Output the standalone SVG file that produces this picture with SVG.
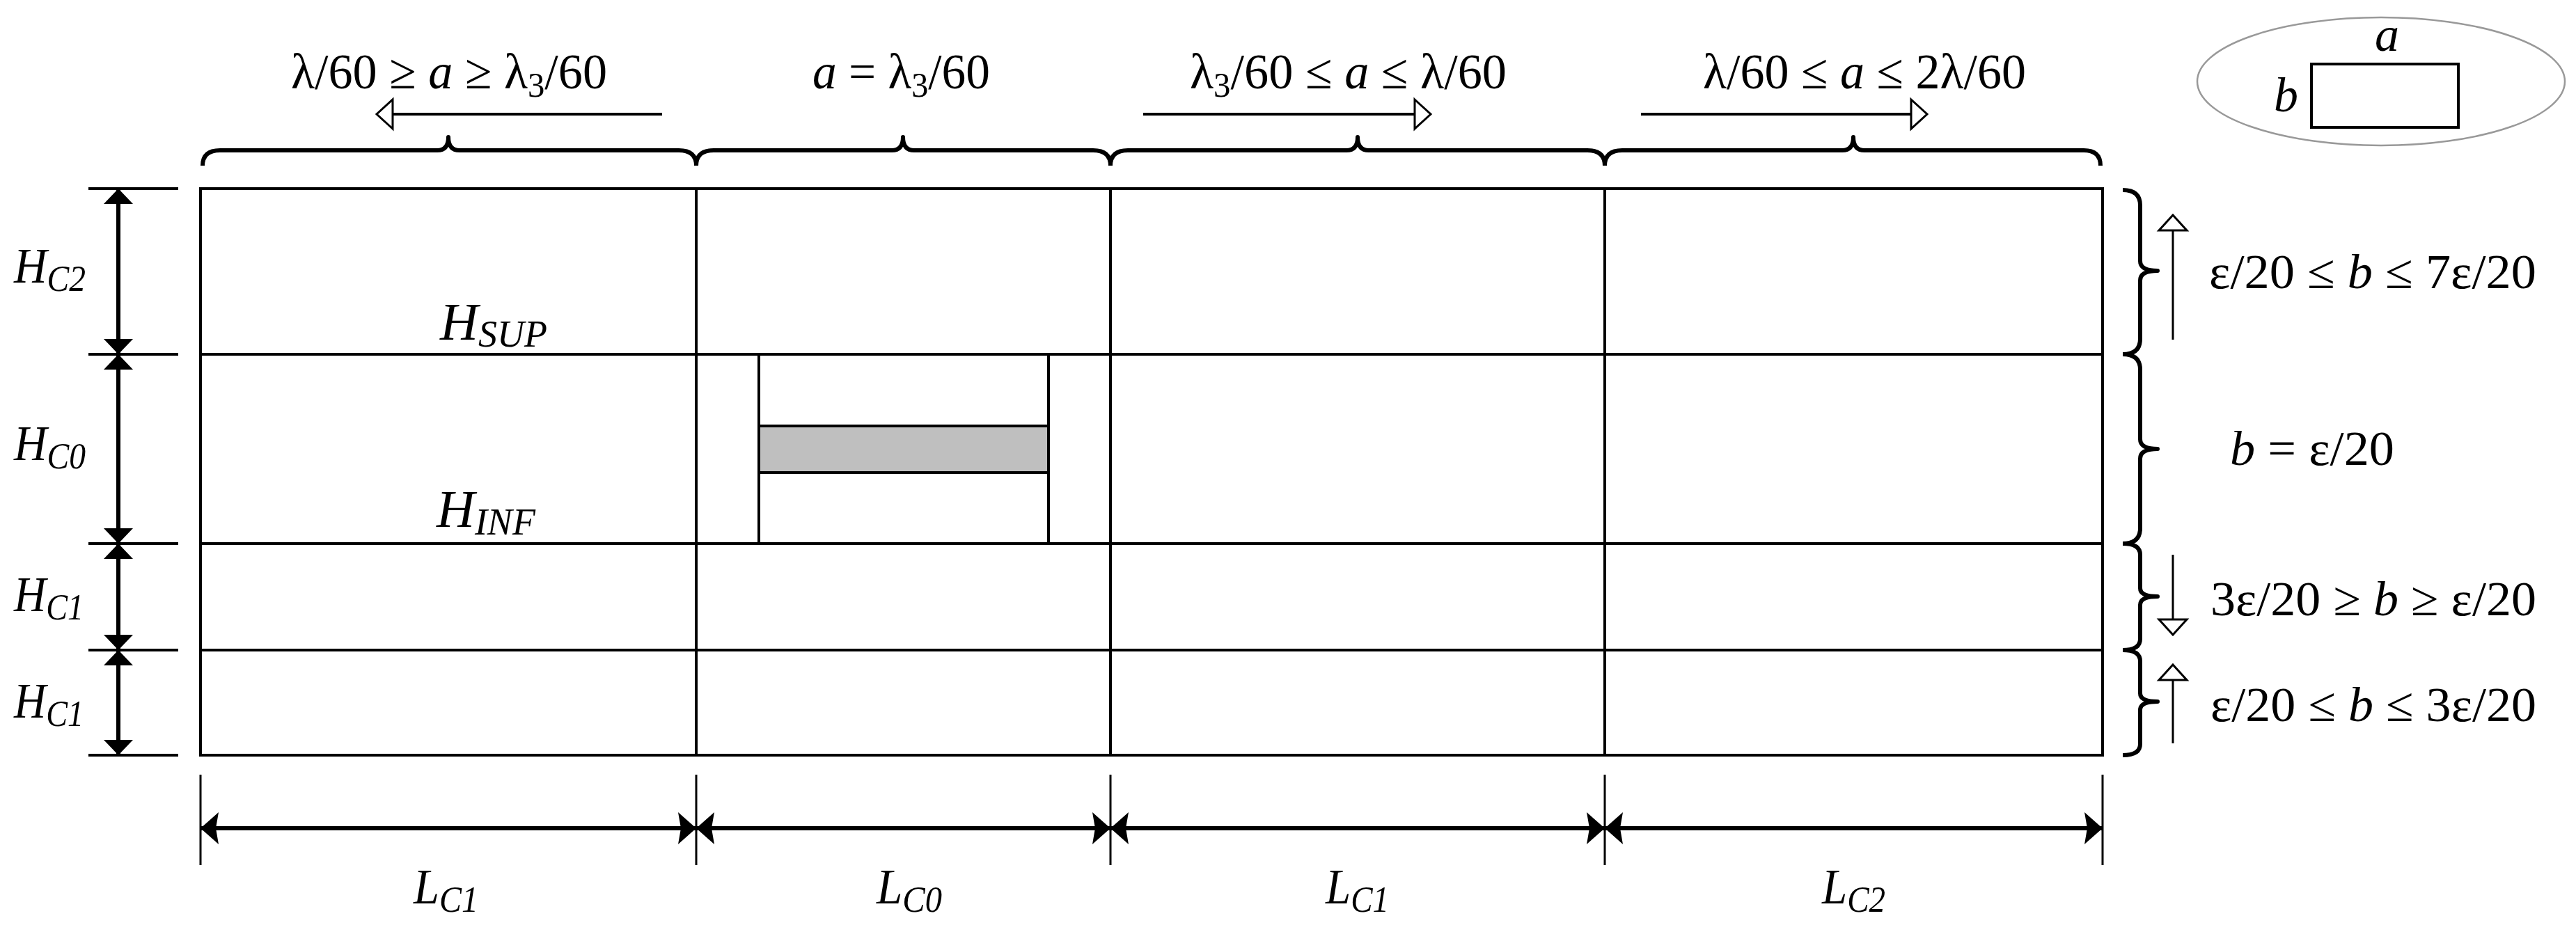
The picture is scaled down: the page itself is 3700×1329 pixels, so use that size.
<svg xmlns="http://www.w3.org/2000/svg" width="3700" height="1329" viewBox="0 0 3700 1329">
<style>
  .g { stroke:#000; stroke-width:4; fill:none; }
  .thin { stroke:#000; stroke-width:3; fill:none; }
  .dim { stroke:#000; stroke-width:6; fill:none; }
  .br { stroke:#000; stroke-width:6; fill:none; stroke-linejoin:round; }
  .t { font-family:"Liberation Serif","Times New Roman",serif; fill:#000; }
  .i { font-style:italic; }
</style>
<defs>
  <marker id="fa" markerUnits="userSpaceOnUse" viewBox="0 0 22 44" markerWidth="22" markerHeight="44" refX="22" refY="22" orient="auto-start-reverse" overflow="visible">
    <path d="M0,1 L22,22 L0,43 z" fill="#000"/>
  </marker>
  <marker id="fb" markerUnits="userSpaceOnUse" viewBox="0 0 26 46" markerWidth="26" markerHeight="46" refX="26" refY="23" orient="auto-start-reverse" overflow="visible">
    <path d="M0,0 L26,23 L0,46 L4,23 z" fill="#000"/>
  </marker>
  <marker id="ho" markerUnits="userSpaceOnUse" viewBox="0 0 28 46" markerWidth="28" markerHeight="46" refX="2" refY="23" orient="auto" overflow="visible">
    <path d="M2,2 L25,23 L2,44 z" fill="#fff" stroke="#000" stroke-width="3"/>
  </marker>
  <marker id="hr" markerUnits="userSpaceOnUse" viewBox="0 0 26 44" markerWidth="26" markerHeight="44" refX="2" refY="22" orient="auto" overflow="visible">
    <path d="M2,2 L24,22 L2,42 z" fill="#fff" stroke="#000" stroke-width="3"/>
  </marker>
</defs>
<rect width="3700" height="1329" fill="#fff"/>

<!-- grid -->
<g id="grid">
  <rect x="288" y="271" width="2732" height="814" class="g"/>
  <line x1="288" y1="509" x2="3020" y2="509" class="g"/>
  <line x1="288" y1="781" x2="3020" y2="781" class="g"/>
  <line x1="288" y1="934" x2="3020" y2="934" class="g"/>
  <line x1="1000" y1="271" x2="1000" y2="1085" class="g"/>
  <line x1="1595" y1="271" x2="1595" y2="1085" class="g"/>
  <line x1="2305" y1="271" x2="2305" y2="1085" class="g"/>
</g>

<g id="center-cell">
  <line x1="1090" y1="509" x2="1090" y2="781" class="g"/>
  <line x1="1506" y1="509" x2="1506" y2="781" class="g"/>
  <rect x="1090" y="612" width="416" height="67" fill="#bfbfbf" stroke="#000" stroke-width="4"/>
</g>

<g id="h-sup"><text class="t i" x="632" y="488" font-size="76">H<tspan font-size="54" dy="10">SUP</tspan></text></g>
<g id="h-inf"><text class="t i" x="627" y="757" font-size="76">H<tspan font-size="54" dy="11">INF</tspan></text></g>

<!-- left dimensions -->
<g id="left-dims">
  <line x1="127" y1="271" x2="256" y2="271" class="g"/>
  <line x1="127" y1="509" x2="256" y2="509" class="g"/>
  <line x1="127" y1="781" x2="256" y2="781" class="g"/>
  <line x1="127" y1="934" x2="256" y2="934" class="g"/>
  <line x1="127" y1="1085" x2="256" y2="1085" class="g"/>
  <line x1="170" y1="271" x2="170" y2="509" class="dim" marker-start="url(#fa)" marker-end="url(#fa)"/>
  <line x1="170" y1="509" x2="170" y2="781" class="dim" marker-start="url(#fa)" marker-end="url(#fa)"/>
  <line x1="170" y1="781" x2="170" y2="934" class="dim" marker-start="url(#fa)" marker-end="url(#fa)"/>
  <line x1="170" y1="934" x2="170" y2="1085" class="dim" marker-start="url(#fa)" marker-end="url(#fa)"/>
</g>
<g id="label-hc2"><text class="t i" x="20" y="406" font-size="72" textLength="103" lengthAdjust="spacingAndGlyphs">H<tspan font-size="52" dy="12">C2</tspan></text></g>
<g id="label-hc0"><text class="t i" x="20" y="661" font-size="72" textLength="103" lengthAdjust="spacingAndGlyphs">H<tspan font-size="52" dy="12">C0</tspan></text></g>
<g id="label-hc1a"><text class="t i" x="20" y="878" font-size="72" textLength="100" lengthAdjust="spacingAndGlyphs">H<tspan font-size="52" dy="12">C1</tspan></text></g>
<g id="label-hc1b"><text class="t i" x="20" y="1031" font-size="72" textLength="100" lengthAdjust="spacingAndGlyphs">H<tspan font-size="52" dy="12">C1</tspan></text></g>

<!-- bottom dimensions -->
<g id="bottom-dims">
  <line x1="288" y1="1113" x2="288" y2="1243" class="thin"/>
  <line x1="1000" y1="1113" x2="1000" y2="1243" class="thin"/>
  <line x1="1595" y1="1113" x2="1595" y2="1243" class="thin"/>
  <line x1="2305" y1="1113" x2="2305" y2="1243" class="thin"/>
  <line x1="3020" y1="1113" x2="3020" y2="1243" class="thin"/>
  <line x1="288" y1="1190" x2="1000" y2="1190" class="dim" marker-start="url(#fb)" marker-end="url(#fb)"/>
  <line x1="1000" y1="1190" x2="1595" y2="1190" class="dim" marker-start="url(#fb)" marker-end="url(#fb)"/>
  <line x1="1595" y1="1190" x2="2305" y2="1190" class="dim" marker-start="url(#fb)" marker-end="url(#fb)"/>
  <line x1="2305" y1="1190" x2="3020" y2="1190" class="dim" marker-start="url(#fb)" marker-end="url(#fb)"/>
</g>
<g id="label-lc1a"><text class="t i" x="594" y="1298" font-size="72" textLength="93" lengthAdjust="spacingAndGlyphs">L<tspan font-size="52" dy="12">C1</tspan></text></g>
<g id="label-lc0"><text class="t i" x="1259" y="1298" font-size="72" textLength="94" lengthAdjust="spacingAndGlyphs">L<tspan font-size="52" dy="12">C0</tspan></text></g>
<g id="label-lc1b"><text class="t i" x="1904" y="1298" font-size="72" textLength="91" lengthAdjust="spacingAndGlyphs">L<tspan font-size="52" dy="12">C1</tspan></text></g>
<g id="label-lc2"><text class="t i" x="2617" y="1298" font-size="72" textLength="91" lengthAdjust="spacingAndGlyphs">L<tspan font-size="52" dy="12">C2</tspan></text></g>

<!-- top braces -->
<g id="top-braces">
  <path class="br" d="M291,238 Q291,216 316,216 L628,216 Q644,216 644,197 Q644,216 660,216 L975,216 Q1000,216 1000,238"/>
  <path class="br" d="M1000,238 Q1000,216 1025,216 L1281,216 Q1297,216 1297,197 Q1297,216 1313,216 L1570,216 Q1595,216 1595,238"/>
  <path class="br" d="M1595,238 Q1595,216 1620,216 L1934,216 Q1950,216 1950,197 Q1950,216 1966,216 L2280,216 Q2305,216 2305,238"/>
  <path class="br" d="M2305,238 Q2305,216 2330,216 L2646,216 Q2662,216 2662,197 Q2662,216 2678,216 L2993,216 Q3017,216 3017,238"/>
</g>

<!-- top direction arrows -->
<g id="top-arrows">
  <line x1="951" y1="164" x2="564" y2="164" class="g" marker-end="url(#ho)"/>
  <line x1="1642" y1="164" x2="2032" y2="164" class="g" marker-end="url(#ho)"/>
  <line x1="2357" y1="164" x2="2745" y2="164" class="g" marker-end="url(#ho)"/>
</g>

<g id="top-label-1"><text class="t" x="418" y="127" font-size="72" textLength="454" lengthAdjust="spacingAndGlyphs">λ/60 ≥ <tspan class="i">a</tspan> ≥ λ<tspan font-size="50" dy="12">3</tspan><tspan dy="-12">/60</tspan></text></g>
<g id="top-label-2"><text class="t" x="1167" y="127" font-size="72" textLength="255" lengthAdjust="spacingAndGlyphs"><tspan class="i">a</tspan> = λ<tspan font-size="50" dy="12">3</tspan><tspan dy="-12">/60</tspan></text></g>
<g id="top-label-3"><text class="t" x="1709" y="127" font-size="72" textLength="455" lengthAdjust="spacingAndGlyphs">λ<tspan font-size="50" dy="12">3</tspan><tspan dy="-12">/60 ≤ </tspan><tspan class="i">a</tspan> ≤ λ/60</text></g>
<g id="top-label-4"><text class="t" x="2446" y="127" font-size="72" textLength="464" lengthAdjust="spacingAndGlyphs">λ/60 ≤ <tspan class="i">a</tspan> ≤ 2λ/60</text></g>

<!-- legend -->
<g id="legend">
  <ellipse cx="3420" cy="117" rx="264" ry="92" fill="none" stroke="#999" stroke-width="2.5"/>
  <rect x="3320" y="92" width="211" height="91" fill="#fff" stroke="#000" stroke-width="4"/>
  <text class="t i" x="3411" y="73" font-size="70">a</text>
  <text class="t i" x="3266" y="160" font-size="70">b</text>
</g>

<!-- right braces -->
<g id="right-braces">
  <path class="br" d="M3049,273 Q3074,273 3074,295 L3074,375 Q3074,389 3099,389 Q3074,389 3074,403 L3074,487 Q3074,509 3049,509"/>
  <path class="br" d="M3049,509 Q3074,509 3074,531 L3074,631 Q3074,645 3099,645 Q3074,645 3074,659 L3074,759 Q3074,781 3049,781"/>
  <path class="br" d="M3049,781 Q3074,781 3074,797 L3074,845 Q3074,857 3099,857 Q3074,857 3074,869 L3074,918 Q3074,934 3049,934"/>
  <path class="br" d="M3049,934 Q3074,934 3074,950 L3074,996 Q3074,1008 3099,1008 Q3074,1008 3074,1020 L3074,1069 Q3074,1085 3049,1085"/>
</g>

<g id="right-arrows">
  <line x1="3121" y1="488" x2="3121" y2="331" class="thin" marker-end="url(#hr)"/>
  <line x1="3121" y1="797" x2="3121" y2="890" class="thin" marker-end="url(#hr)"/>
  <line x1="3121" y1="1068" x2="3121" y2="977" class="thin" marker-end="url(#hr)"/>
</g>

<g id="right-label-1"><text class="t" x="3173" y="414" font-size="70" textLength="470" lengthAdjust="spacingAndGlyphs">ε/20 ≤ <tspan class="i">b</tspan> ≤ 7ε/20</text></g>
<g id="right-label-2"><text class="t" x="3203" y="668" font-size="70" textLength="236" lengthAdjust="spacingAndGlyphs"><tspan class="i">b</tspan> = ε/20</text></g>
<g id="right-label-3"><text class="t" x="3175" y="884" font-size="70" textLength="468" lengthAdjust="spacingAndGlyphs">3ε/20 ≥ <tspan class="i">b</tspan> ≥ ε/20</text></g>
<g id="right-label-4"><text class="t" x="3175" y="1036" font-size="70" textLength="468" lengthAdjust="spacingAndGlyphs">ε/20 ≤ <tspan class="i">b</tspan> ≤ 3ε/20</text></g>
</svg>
